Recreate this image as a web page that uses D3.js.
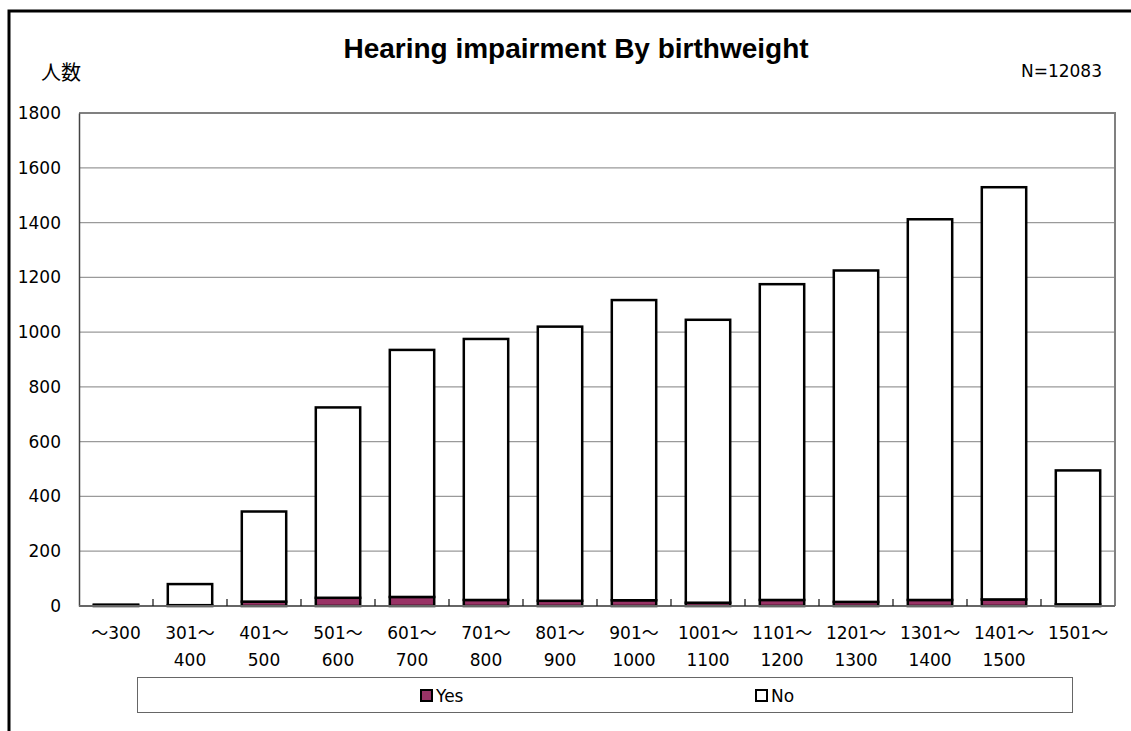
<!DOCTYPE html>
<html>
<head>
<meta charset="utf-8">
<script src="https://cdn.jsdelivr.net/npm/d3@7"></script>
<style>
  html, body { margin: 0; padding: 0; background: #fff; }
  svg { display: block; }
  text { font-family: "DejaVu Sans", "Noto Sans CJK JP", sans-serif; fill: #000; }
</style>
</head>
<body>
<svg id="chart" width="1131" height="731"></svg>
<script>
// Birthweight groups (grams)
const categories = ["～300", "301～400", "401～500", "501～600", "601～700", "701～800", "801～900",
  "901～1000", "1001～1100", "1101～1200", "1201～1300", "1301～1400", "1401～1500", "1501～"];
// Children with hearing impairment
const yesValues = [1, 3, 16, 30, 33, 22, 19, 21, 12, 22, 15, 22, 24, 6];
// Children without hearing impairment
const noValues = [4, 77, 329, 695, 902, 953, 1001, 1096, 1033, 1153, 1210, 1390, 1505, 489];
const seriesNames = ["Yes", "No"];
const yTicks = [0, 200, 400, 600, 800, 1000, 1200, 1400, 1600, 1800];

const svg = d3.select("#chart");
const plot = { left: 79, top: 113, right: 1115, bottom: 606 };
const labelSize = "17px";

const x = d3.scaleBand().domain(categories).range([plot.left, plot.right]).paddingInner(0.4).paddingOuter(0.2);
const y = d3.scaleLinear().domain([0, 1800]).range([plot.bottom, plot.top]);
const color = d3.scaleOrdinal().domain(seriesNames).range(["#993366", "#ffffff"]);

// outer frame
svg.append("rect").attr("x", 9).attr("y", 11).attr("width", 1200).attr("height", 800)
  .attr("fill", "none").attr("stroke", "#000").attr("stroke-width", 3);

// title and side notes
svg.append("text").attr("x", 576).attr("y", 58).attr("text-anchor", "middle")
  .style("font-family", "'Liberation Sans', Arial, sans-serif").style("font-weight", "bold").style("font-size", "28px")
  .text("Hearing impairment By birthweight");
svg.append("text").attr("x", 41).attr("y", 80).style("font-family", "'Noto Sans CJK JP', sans-serif")
  .style("font-size", "20px").text("人数");
svg.append("text").attr("x", 1102).attr("y", 77).attr("text-anchor", "end").style("font-size", labelSize).text("N=12083");

// gridlines
svg.append("g").selectAll("line").data(yTicks.filter(d => d > 0)).join("line")
  .attr("x1", plot.left).attr("x2", plot.right)
  .attr("y1", d => y(d)).attr("y2", d => y(d))
  .attr("stroke", "#9a9a9a").attr("stroke-width", 1.3);

// plot border (top and right)
svg.append("path")
  .attr("d", `M${plot.left},${plot.top}H${plot.right}V${plot.bottom}`)
  .attr("fill", "none").attr("stroke", "#808080").attr("stroke-width", 2);

// y axis
const yAxis = svg.append("g").attr("transform", `translate(${plot.left},0)`)
  .call(d3.axisLeft(y).tickValues(yTicks).tickFormat(d3.format("d")).tickSize(0).tickPadding(18));
yAxis.select(".domain").attr("stroke", "#444").attr("stroke-width", 1.5);
yAxis.selectAll("text").style("font-size", labelSize).style("font-family", "'DejaVu Sans', sans-serif");

// stacked bars
const rows = categories.map((c, i) => ({ cat: c, Yes: yesValues[i], No: noValues[i] }));
const stacked = d3.stack().keys(seriesNames)(rows);
svg.append("g").selectAll("g").data(stacked).join("g")
  .attr("fill", d => color(d.key))
  .selectAll("rect").data(d => d).join("rect")
  .attr("x", d => x(d.data.cat))
  .attr("width", x.bandwidth())
  .attr("y", d => y(d[1]))
  .attr("height", d => y(d[0]) - y(d[1]))
  .attr("stroke", "#000").attr("stroke-width", 2.5);

// x axis baseline and inner ticks at group boundaries
svg.append("line").attr("x1", plot.left).attr("x2", plot.right)
  .attr("y1", plot.bottom).attr("y2", plot.bottom)
  .attr("stroke", "#666").attr("stroke-width", 2);
const bounds = categories.slice(1).map(c => x(c) - x.step() * x.paddingInner() / 2);
svg.append("g").selectAll("line").data(bounds).join("line")
  .attr("x1", d => d).attr("x2", d => d)
  .attr("y1", plot.bottom).attr("y2", plot.bottom - 7)
  .attr("stroke", "#222").attr("stroke-width", 1.3);

// category labels: split after the wave dash onto two lines
const xl = svg.append("g").selectAll("text").data(categories).join("text")
  .attr("text-anchor", "middle").style("font-size", labelSize)
  .attr("transform", d => `translate(${x(d) + x.bandwidth() / 2},0)`);
xl.each(function (d) {
  const idx = d.indexOf("～");
  const first = idx === 0 ? d : d.slice(0, idx + 1);
  const second = idx === 0 ? "" : d.slice(idx + 1);
  const t = d3.select(this);
  t.append("tspan").attr("x", 0).attr("y", 639).text(first);
  if (second) t.append("tspan").attr("x", 0).attr("y", 666).text(second);
});

// legend
const legend = svg.append("g");
legend.append("rect").attr("x", 137.5).attr("y", 677.5).attr("width", 935).attr("height", 35)
  .attr("fill", "#fff").attr("stroke", "#666").attr("stroke-width", 1);
const legendX = [421, 756];
seriesNames.forEach((s, i) => {
  legend.append("rect").attr("x", legendX[i]).attr("y", 690).attr("width", 11).attr("height", 11)
    .attr("fill", color(s)).attr("stroke", "#000").attr("stroke-width", 2);
  legend.append("text").attr("x", legendX[i] + 15).attr("y", 702).style("font-size", labelSize).text(s);
});
</script>
</body>
</html>
